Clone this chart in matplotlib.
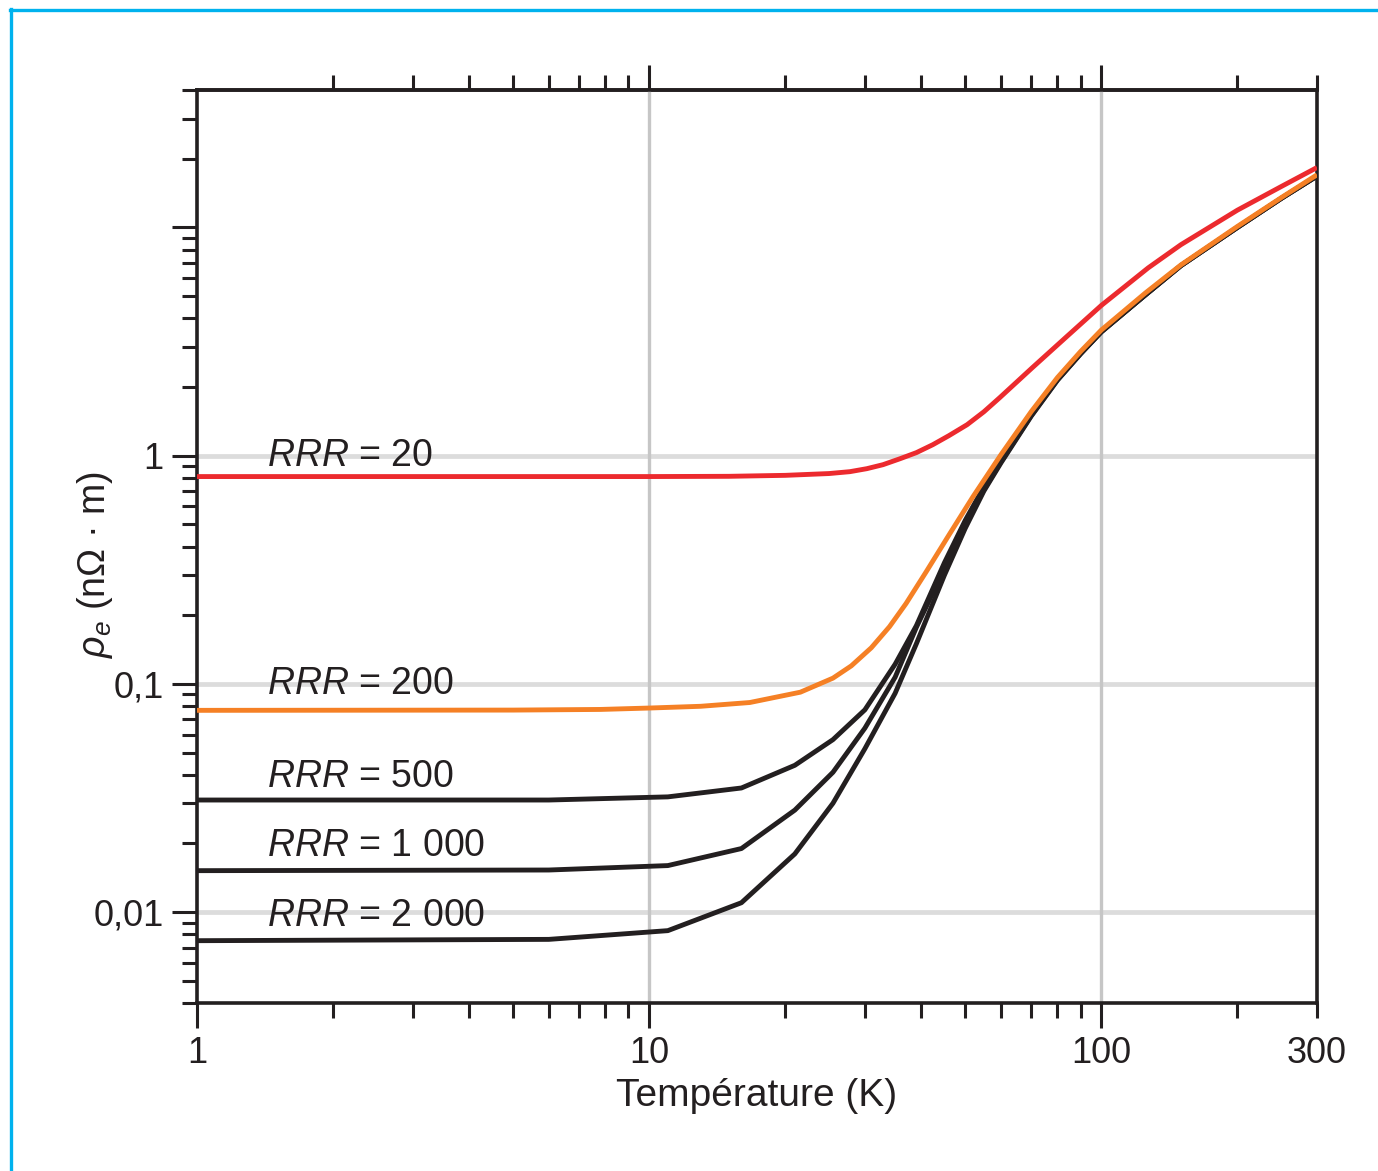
import matplotlib
matplotlib.use("Agg")
import matplotlib.pyplot as plt
from matplotlib.lines import Line2D

# ---------------- data ----------------
T_rrr20 = [1, 5, 10, 15, 20, 25, 27.8, 30.3, 32.9, 35.9, 39, 42.4, 46, 50.5, 55, 59.6, 70.4,
           83.8, 100, 127, 150, 200, 250, 300]
rho_rrr20 = [0.81, 0.81, 0.81, 0.812, 0.82, 0.835, 0.851, 0.877, 0.913, 0.97, 1.031, 1.117,
             1.223, 1.367, 1.557, 1.794, 2.43, 3.32, 4.55, 6.65, 8.4, 11.9, 15.1, 18.3]

T_rrr200 = [1, 5, 7.8, 10, 13, 16.7, 21.6, 25.5, 28, 31, 34, 37, 41, 46, 52, 60, 70, 80, 90,
            100, 125, 150, 200, 250, 300]
rho_rrr200 = [0.0766, 0.0768, 0.0773, 0.0784, 0.0798, 0.0829, 0.092, 0.106, 0.12, 0.144, 0.178,
              0.225, 0.31, 0.448, 0.66, 1.01, 1.56, 2.2, 2.86, 3.55, 5.15, 6.85, 10.1, 13.5, 17.0]

T_black = [1, 6, 11, 16, 21, 25.5, 30, 35, 39, 45, 50, 55, 60, 70, 80, 90, 100, 125, 150, 200,
           250, 300]
rho_rrr500 = [0.031, 0.031, 0.032, 0.035, 0.044, 0.057, 0.077, 0.122, 0.18, 0.34, 0.52, 0.73,
              0.96, 1.52, 2.16, 2.81, 3.5, 5.05, 6.8, 10.0, 13.4, 16.8]
rho_rrr1000 = [0.0152, 0.0153, 0.0160, 0.019, 0.028, 0.041, 0.064, 0.107, 0.177, 0.32, 0.50,
               0.71, 0.94, 1.5, 2.15, 2.8, 3.49, 5.05, 6.8, 10.0, 13.4, 16.8]
rho_rrr2000 = [0.0075, 0.0076, 0.0083, 0.011, 0.018, 0.030, 0.052, 0.091, 0.15, 0.30, 0.48,
               0.70, 0.93, 1.49, 2.14, 2.79, 3.48, 5.05, 6.8, 10.0, 13.4, 16.8]

curve_labels = ["20", "200", "500", "1 000", "2 000"]

x_major = [1, 10, 100]
x_major_labels = ["1", "10", "100"]
x_minor = [2, 3, 4, 5, 6, 7, 8, 9, 20, 30, 40, 50, 60, 70, 80, 90, 200, 300]
x_minor_labels = [""] * 17 + ["300"]

y_major = [0.01, 0.1, 1, 10]
y_major_labels = ["0,01", "0,1", "1", ""]
y_minor = [0.004, 0.005, 0.006, 0.007, 0.008, 0.009,
           0.02, 0.03, 0.04, 0.05, 0.06, 0.07, 0.08, 0.09,
           0.2, 0.3, 0.4, 0.5, 0.6, 0.7, 0.8, 0.9,
           2, 3, 4, 5, 6, 7, 8, 9, 20, 30, 40]

# ---------------- style ----------------
FONT = "Liberation Sans"
plt.rcParams["font.family"] = [FONT, "DejaVu Sans"]
plt.rcParams["mathtext.fontset"] = "custom"
plt.rcParams["mathtext.rm"] = FONT
plt.rcParams["mathtext.it"] = FONT + ":italic"
plt.rcParams["mathtext.bf"] = FONT + ":bold"

INK = "#231f20"
RED = "#ec2a2e"
ORANGE = "#f58025"
CYAN = "#00b2ee"

W, H = 1378, 1171
fig = plt.figure(figsize=(W / 100, H / 100), dpi=100)
L, R, B, Tp = 197, 1317, 1003, 90
ax = fig.add_axes([L / W, 1 - B / H, (R - L) / W, (B - Tp) / H])
ax.set_xscale("log")
ax.set_yscale("log")
ax.set_xlim(1, 300)
ax.set_ylim(0.004, 40)

# grid lines
for yv in [0.01, 0.1, 1]:
    ax.axhline(yv, color="#dcdcdc", lw=3.4, zorder=1)
for xv in [10, 100]:
    ax.axvline(xv, color="#c6c6c6", lw=2.4, zorder=1)

lw = 3.5
ax.plot(T_rrr20, rho_rrr20, color=RED, lw=lw, zorder=4, solid_capstyle="butt",
        solid_joinstyle="round")
for rho in (rho_rrr500, rho_rrr1000, rho_rrr2000):
    ax.plot(T_black, rho, color=INK, lw=lw, zorder=3, solid_capstyle="butt",
            solid_joinstyle="round")
ax.plot(T_rrr200, rho_rrr200, color=ORANGE, lw=lw, zorder=3.5, solid_capstyle="butt",
        solid_joinstyle="round")

# curve labels
label_y = [1.0, 0.1, 0.039, 0.0194, 0.0096]
for lab, yv in zip(curve_labels, label_y):
    ax.text(1.43, yv, r"$RRR$ = " + lab, fontsize=27, color=INK, va="center",
            ha="left", zorder=5)

# spines
for s in ax.spines.values():
    s.set_linewidth(2.6)
    s.set_color(INK)

maj_len, min_len = 18, 10.5
pad = 6
ax.set_xticks(x_major, labels=x_major_labels)
ax.set_xticks(x_minor, labels=x_minor_labels, minor=True)
ax.set_yticks(y_major, labels=y_major_labels)
ax.set_yticks(y_minor, labels=[""] * len(y_minor), minor=True)
ax.tick_params(which="major", direction="out", length=maj_len, width=2.2, color=INK,
               labelsize=26, labelcolor=INK, pad=pad, right=False, top=False)
ax.tick_params(which="minor", direction="out", length=min_len, width=2.2, color=INK,
               labelsize=26, labelcolor=INK, pad=pad + (maj_len - min_len),
               right=False, top=False)

# top axis ticks (no label)
sec = ax.secondary_xaxis("top")
sec.set_xticks([10, 100], labels=["", ""])
sec.set_xticks(x_minor, labels=[""] * len(x_minor), minor=True)
sec.tick_params(which="major", direction="out", length=maj_len, width=2.2, color=INK)
sec.tick_params(which="minor", direction="out", length=min_len, width=2.2, color=INK)
sec.spines["top"].set_linewidth(2.6)
sec.spines["top"].set_color(INK)

# axis labels
ax.set_xlabel("Température (K)", fontsize=28, color=INK)
ax.xaxis.set_label_coords(0.5, -(1096 - B) / (B - Tp))
ax.xaxis.label.set_va("center")
ax.set_ylabel(r"$\rho_e$ (nΩ · m)", fontsize=27, color=INK)
ax.yaxis.set_label_coords((95 - L) / (R - L), (B - 565) / (B - Tp))
ax.yaxis.label.set_va("center")

# cyan frame (top and left edges)
fig.add_artist(Line2D([9.5 / W, 1], [1 - 9.5 / H, 1 - 9.5 / H], color=CYAN, lw=2.4,
                      transform=fig.transFigure))
fig.add_artist(Line2D([10.5 / W, 10.5 / W], [0, 1 - 8.5 / H], color=CYAN, lw=2.4,
                      transform=fig.transFigure))

fig.savefig("out.png", dpi=100, facecolor="white")
